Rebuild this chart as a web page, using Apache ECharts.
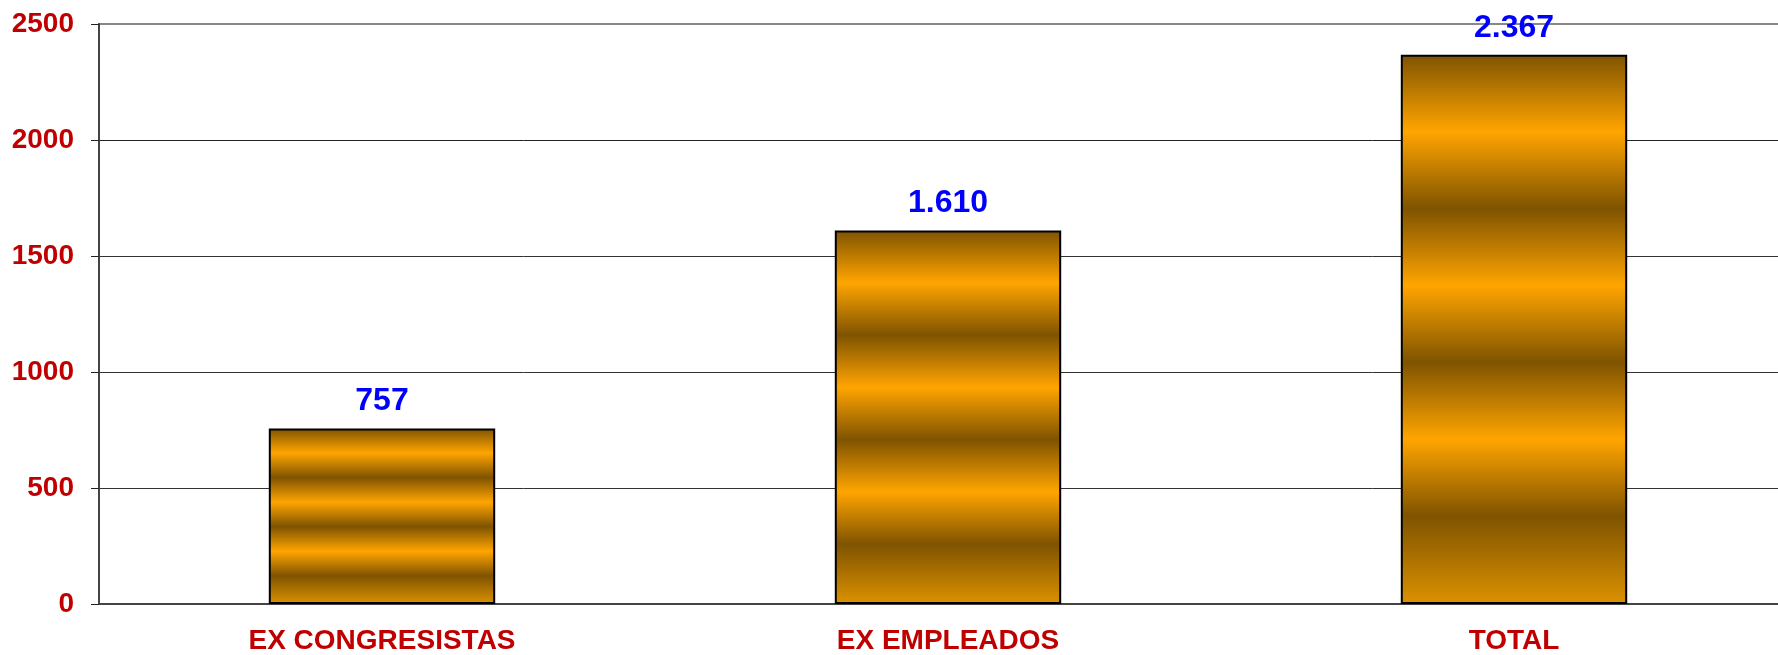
<!DOCTYPE html>
<html>
<head>
<meta charset="utf-8">
<script src="https://cdn.jsdelivr.net/npm/echarts@6/dist/echarts.min.js"></script>
<style>
  html, body { margin: 0; padding: 0; background: #fff; overflow: hidden; }
  /* plot area runs a bit past the right edge, like the original; clip it */
  .wrap { width: 1778px; height: 655px; overflow: hidden; position: relative; }
  #chart { width: 1797px; height: 655px; position: absolute; left: 0; top: 0; }
</style>
</head>
<body>
<div class="wrap"><div id="chart"></div></div>
<script>
  const categories = ['EX CONGRESISTAS', 'EX EMPLEADOS', 'TOTAL']
  const values = [757, 1610, 2367]
  const yTicks = [0, 500, 1000, 1500, 2000, 2500]

  const dark = '#7f5300'
  const orange = '#ffa500'
  // banded fill like the original texture
  const stripes = new echarts.graphic.LinearGradient(0, 0, 0, 1, [
    { offset: 0, color: dark },
    { offset: 0.14, color: orange },
    { offset: 0.28, color: dark },
    { offset: 0.42, color: orange },
    { offset: 0.56, color: dark },
    { offset: 0.70, color: orange },
    { offset: 0.84, color: dark },
    { offset: 1, color: '#dc9200' }
  ])

  const dotThousands = v => String(v).replace(/\B(?=(\d{3})+(?!\d))/g, '.')

  const myChart = echarts.init(document.getElementById('chart'))
  myChart.setOption({
    animation: false,
    grid: {
      left: 99,
      top: 24,
      right: 0,
      height: 586,
      show: true,
      borderColor: '#888',
      borderWidth: 2
    },
    xAxis: {
      type: 'category',
      data: categories,
      axisLine: { lineStyle: { color: '#444', width: 2 } },
      axisTick: { length: 8, lineStyle: { color: '#444' } },
      axisLabel: {
        color: '#c00000',
        fontSize: 28,
        fontWeight: 'bold',
        fontFamily: 'Liberation Sans, Arial',
        margin: 23
      }
    },
    yAxis: {
      type: 'value',
      min: yTicks[0],
      max: yTicks[yTicks.length - 1],
      interval: 500,
      axisLine: { show: true, lineStyle: { color: '#444', width: 2 } },
      axisTick: { show: true, length: 8, lineStyle: { color: '#222' } },
      splitLine: {
        lineStyle: { color: ['#222', '#333', '#333', '#333', '#222', '#888'], width: 1 }
      },
      axisLabel: {
        color: '#c00000',
        fontSize: 28,
        fontWeight: 'bold',
        fontFamily: 'Liberation Sans, Arial',
        margin: 25,
        formatter: v => String(v)
      }
    },
    series: [
      {
        type: 'bar',
        data: values,
        barWidth: '40%',
        itemStyle: {
          color: stripes,
          borderColor: '#000',
          borderWidth: 2
        },
        label: {
          show: true,
          position: 'top',
          distance: 11,
          color: '#0000ff',
          fontSize: 32,
          fontWeight: 'bold',
          fontFamily: 'Liberation Sans, Arial',
          formatter: p => dotThousands(p.value)
        }
      }
    ]
  })
</script>
</body>
</html>
